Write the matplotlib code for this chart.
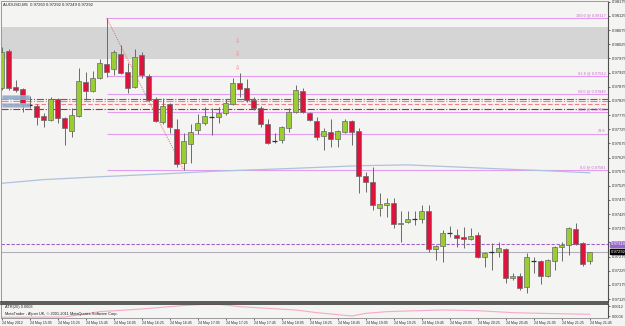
import matplotlib
matplotlib.use("Agg")
import matplotlib.pyplot as plt
import matplotlib.transforms as mtransforms
from matplotlib.patches import Rectangle

plt.rcParams['font.family'] = ['Liberation Sans', 'DejaVu Sans']

# ---------------- data ----------------
chart_title = "AUDUSD,M5  0.97260 0.97292 0.97249 0.97292"

opens = [0.97870, 0.98001, 0.97874, 0.97867, 0.97811, 0.97807, 0.97772, 0.97757, 0.97832, 0.97765,
         0.97719, 0.97772, 0.97892, 0.97860, 0.97906, 0.97955, 0.97937, 0.97990, 0.97927, 0.97874,
         0.97987, 0.97913, 0.97832, 0.97750, 0.97814, 0.97726, 0.97606, 0.97673, 0.97722, 0.97747,
         0.97769, 0.97768, 0.97782, 0.97814, 0.97888, 0.97870, 0.97828, 0.97800, 0.97743, 0.97684,
         0.97687, 0.97729, 0.97786, 0.97860, 0.97782, 0.97754, 0.97701, 0.97715, 0.97690, 0.97715,
         0.97754, 0.97719, 0.97560, 0.97539, 0.97447, 0.97457, 0.97464, 0.97390, 0.97397, 0.97409,
         0.97408, 0.97436, 0.97302, 0.97313, 0.97360, 0.97352, 0.97344, 0.97337, 0.97352, 0.97274,
         0.97292, 0.97291, 0.97302, 0.97200, 0.97207, 0.97168, 0.97261, 0.97260, 0.97207, 0.97260,
         0.97309, 0.97316, 0.97373, 0.97323, 0.97260]
highs = [0.98015, 0.98008, 0.97899, 0.97870, 0.97842, 0.97814, 0.97782, 0.97839, 0.97835, 0.97768,
         0.97800, 0.97941, 0.97927, 0.97930, 0.97973, 0.98117, 0.98004, 0.98022, 0.97959, 0.98008,
         0.97997, 0.97919, 0.97839, 0.97835, 0.97817, 0.97761, 0.97711, 0.97743, 0.97779, 0.97803,
         0.97800, 0.97803, 0.97832, 0.97906, 0.97923, 0.97902, 0.97839, 0.97807, 0.97761, 0.97711,
         0.97736, 0.97800, 0.97881, 0.97870, 0.97786, 0.97768, 0.97729, 0.97761, 0.97722, 0.97761,
         0.97757, 0.97729, 0.97574, 0.97591, 0.97500, 0.97482, 0.97482, 0.97436, 0.97436, 0.97436,
         0.97457, 0.97457, 0.97316, 0.97369, 0.97383, 0.97373, 0.97380, 0.97376, 0.97362, 0.97291,
         0.97323, 0.97327, 0.97305, 0.97217, 0.97217, 0.97288, 0.97274, 0.97263, 0.97267, 0.97313,
         0.97327, 0.97380, 0.97394, 0.97327, 0.97292]
lows = [0.97863, 0.97863, 0.97856, 0.97786, 0.97800, 0.97740, 0.97733, 0.97754, 0.97747, 0.97669,
        0.97697, 0.97768, 0.97828, 0.97856, 0.97902, 0.97909, 0.97916, 0.97919, 0.97853, 0.97870,
        0.97906, 0.97825, 0.97750, 0.97743, 0.97711, 0.97591, 0.97581, 0.97606, 0.97708, 0.97740,
        0.97704, 0.97747, 0.97775, 0.97810, 0.97839, 0.97821, 0.97793, 0.97733, 0.97673, 0.97676,
        0.97676, 0.97715, 0.97782, 0.97782, 0.97754, 0.97687, 0.97651, 0.97662, 0.97662, 0.97711,
        0.97669, 0.97500, 0.97503, 0.97440, 0.97419, 0.97415, 0.97376, 0.97327, 0.97394, 0.97387,
        0.97394, 0.97291, 0.97263, 0.97256, 0.97344, 0.97309, 0.97305, 0.97334, 0.97270, 0.97239,
        0.97228, 0.97274, 0.97182, 0.97193, 0.97157, 0.97147, 0.97217, 0.97179, 0.97203, 0.97228,
        0.97260, 0.97281, 0.97316, 0.97242, 0.97249]
closes = [0.97997, 0.97870, 0.97863, 0.97817, 0.97810, 0.97768, 0.97757, 0.97832, 0.97765, 0.97729,
          0.97775, 0.97895, 0.97860, 0.97906, 0.97959, 0.97927, 0.97997, 0.97923, 0.97870, 0.97980,
          0.97916, 0.97828, 0.97754, 0.97807, 0.97733, 0.97602, 0.97683, 0.97715, 0.97747, 0.97772,
          0.97768, 0.97782, 0.97817, 0.97888, 0.97867, 0.97828, 0.97800, 0.97743, 0.97676, 0.97683,
          0.97733, 0.97786, 0.97863, 0.97786, 0.97757, 0.97697, 0.97719, 0.97690, 0.97719, 0.97754,
          0.97715, 0.97560, 0.97539, 0.97457, 0.97461, 0.97464, 0.97390, 0.97394, 0.97408, 0.97408,
          0.97436, 0.97302, 0.97313, 0.97359, 0.97359, 0.97341, 0.97337, 0.97348, 0.97274, 0.97288,
          0.97291, 0.97305, 0.97200, 0.97207, 0.97164, 0.97274, 0.97260, 0.97207, 0.97263, 0.97309,
          0.97316, 0.97376, 0.97320, 0.97249, 0.97292]

time_labels = ["24 May 2012", "24 May 15:05", "24 May 15:25", "24 May 15:45", "24 May 16:05",
               "24 May 16:25", "24 May 16:45", "24 May 17:05", "24 May 17:25", "24 May 17:45",
               "24 May 18:05", "24 May 18:25", "24 May 18:45", "24 May 19:05", "24 May 19:25",
               "24 May 19:45", "24 May 20:05", "24 May 20:25", "24 May 20:45", "24 May 21:05",
               "24 May 21:25", "24 May 21:45"]
time_label_bars = [0, 4, 8, 12, 16, 20, 24, 28, 32, 36, 40, 44, 48, 52, 56, 60, 64, 68, 72, 76, 80, 84]

price_ticks = [0.98175, 0.98125, 0.98075, 0.98025, 0.97975, 0.97925, 0.97875, 0.97825, 0.97775,
               0.97725, 0.97675, 0.97625, 0.97575, 0.97525, 0.97475, 0.97425, 0.97375, 0.97325,
               0.97275, 0.97225, 0.97175, 0.97125]
price_tick_labels = ["%.5f" % v for v in price_ticks]

fib_start_bar, fib_end_bar = 15, 26
fib_levels = [100.0, 61.8, 50.0, 38.2, 23.6, 0.0]

zone_top, zone_bottom = 0.98087, 0.97974
arrow_bar = 34
arrow_prices = [0.98037, 0.97990, 0.97940]

hline_prices = [0.97833, 0.97825, 0.97814, 0.97796]
hline_colors = ['#e0206a', '#ff6fae', '#f08080', '#dc143c']
hline_styles = ['dashdot', 'dashdot', (0, (4, 2)), 'dashdot']
tag_prices = [0.97839, 0.97810]

ma_bars = [0, 6, 14, 23, 30, 42, 51, 58, 72, 78, 84]
ma_values = [0.97534, 0.97547, 0.97557, 0.97567, 0.97576, 0.97587, 0.97596, 0.97599, 0.97584,
             0.97578, 0.97571]

bid_price = 0.97292
line_price = 0.97318

atr_bars = [0, 9, 14, 20, 26, 29, 31, 34, 38, 42, 45, 47, 50, 52, 55, 58, 63, 68, 73, 77, 84]
atr_values = [0.00052, 0.00054, 0.00086, 0.00102, 0.00123, 0.00130, 0.00130, 0.00116, 0.00106,
              0.00096, 0.00080, 0.00072, 0.00060, 0.00076, 0.00086, 0.00090, 0.00096, 0.00092,
              0.00080, 0.00076, 0.00070]
atr_label = "ATR(20) 0.0008"
copyright_text = "MetaTrader - Alpari UK, \u00a9 2001-2011 MetaQuotes Software Corp."
atr_ticks = [0.0012, 0.0006]
atr_tick_labels = ["0.0012", "0.0006"]

# ---------------- styling ----------------
W, H = 625, 326
BG = '#f4f4f2'
BULL = '#9acd32'
BEAR = '#dc143c'
EDGE = '#6a6a6a'
FIB = '#e29cf0'
FIBTXT = '#c86ad0'

fig = plt.figure(figsize=(W / 100, H / 100), dpi=100, facecolor=BG)

def box(l, t, r, b):
    return [l / W, 1 - b / H, (r - l) / W, (b - t) / H]

ax = fig.add_axes(box(1.5, 1, 608, 302))
ax.set_facecolor(BG)
ax_atr = fig.add_axes(box(1.5, 304, 608, 318), sharex=ax)
ax_atr.set_facecolor(BG)

n = len(opens)
xs = list(range(n))
ax.set_xlim(-0.03, 86.6)
ax.set_ylim(0.971149, 0.981775)

# zone band
ax.axhspan(zone_bottom, zone_top, color='#d5d5d5', zorder=0.5, lw=0)

# horizontal lines
for p, c, s in zip(hline_prices, hline_colors, hline_styles):
    ax.axhline(p, color=c, lw=0.8, ls=s, zorder=1)

# fibonacci
f_hi = highs[fib_start_bar]
f_lo = lows[fib_end_bar]
for lv in fib_levels:
    p = f_lo + (f_hi - f_lo) * lv / 100.0
    ax.hlines(p, fib_start_bar, 86.6, color=FIB, lw=0.8, zorder=1)
    txt = "23.6" if lv == 23.6 else "%.1f @ %.5f" % (lv, p)
    ax.annotate(txt, xy=(1.0, p), xycoords=ax.get_yaxis_transform(),
                xytext=(-1.5, 0.6), textcoords='offset points', ha='right', va='bottom',
                fontsize=2.8, color=FIBTXT, zorder=5)
ax.plot([fib_start_bar, fib_end_bar], [f_hi, f_lo], color='#f07070', lw=0.7,
        ls=(0, (1.2, 1.2)), zorder=1.5)

# moving average
ax.plot(ma_bars, ma_values, color='#adc2dc', lw=0.9, zorder=1.2)

# bid / line
ax.axhline(bid_price, color='#b4aebb', lw=0.8, zorder=1)
ax.axhline(line_price, color='#a060c8', lw=0.8, ls=(0, (3, 1.5)), zorder=1)

# candles
for i in xs:
    o, h, l, c = opens[i], highs[i], lows[i], closes[i]
    ax.vlines(i, l, h, color=EDGE, lw=0.7, zorder=2)
    bull = c >= o
    col = BULL if bull else BEAR
    bot = min(o, c)
    hgt = abs(c - o)
    if hgt < 0.000025:
        ax.hlines((o + c) / 2, i - 0.35, i + 0.35, color='#303030', lw=0.9, zorder=3)
    else:
        ax.add_patch(Rectangle((i - 0.35, bot), 0.7, hgt, facecolor=col, edgecolor=EDGE,
                               lw=0.5, zorder=3))

# signal arrows
for p in arrow_prices:
    ax.text(arrow_bar - 0.25, p, '\u21e9', fontsize=4.5, color='#f08080', ha='center',
            va='center', family='DejaVu Sans', zorder=4)

# tag boxes at left
for p in tag_prices:
    ax.add_patch(Rectangle((0.1, p - 0.00007), 3.8, 0.00014, facecolor='#8faac8',
                           edgecolor='#b8c8dc', lw=0.4, alpha=0.9, zorder=4))

# title
fig.text(3 / W, 1 - 4.5 / H, chart_title, fontsize=3, color='#202020', va='center', ha='left')

# price axis
ax.yaxis.tick_right()
ax.set_yticks(price_ticks)
ax.set_yticklabels(price_tick_labels)
ax.tick_params(axis='y', labelsize=3, length=1.5, width=0.5, pad=1, colors='#303030')
ax.tick_params(axis='x', bottom=False, labelbottom=False)
for s in ['left', 'top']:
    ax.spines[s].set_color('#9a9a9a')
    ax.spines[s].set_linewidth(0.7)
ax.spines['right'].set_color('#505050')
ax.spines['right'].set_linewidth(0.8)
ax.spines['bottom'].set_color('#404040')
ax.spines['bottom'].set_linewidth(1.2)

# price boxes on the axis
yb = ax.get_yaxis_transform()
ax.text(1.004, line_price, "%.5f" % line_price, transform=yb, fontsize=3, color='#ffffff',
        va='center', ha='left', zorder=6,
        bbox=dict(boxstyle='square,pad=0.15', fc='#9966cc', ec='#9966cc'), clip_on=False)
ax.text(1.004, bid_price, "%.5f" % bid_price, transform=yb, fontsize=3, color='#ffffff',
        va='center', ha='left', zorder=6,
        bbox=dict(boxstyle='square,pad=0.15', fc='#000000', ec='#000000'), clip_on=False)

# ATR panel
ax_atr.set_ylim(0.00048, 0.00132)
ax_atr.plot(atr_bars, atr_values, color='#f7a8cc', lw=0.8)
ax_atr.yaxis.tick_right()
ax_atr.set_yticks(atr_ticks)
ax_atr.set_yticklabels(atr_tick_labels)
ax_atr.tick_params(axis='y', labelsize=2.8, length=1.5, width=0.5, pad=1, colors='#303030')
ax_atr.set_xticks(time_label_bars)
ax_atr.set_xticklabels(time_labels)
ax_atr.tick_params(axis='x', labelsize=2.6, length=1.5, width=0.5, pad=0.8, colors='#303030')
for lbl in ax_atr.get_xticklabels():
    lbl.set_ha('left')
for s in ['left', 'bottom']:
    ax_atr.spines[s].set_color('#9a9a9a')
    ax_atr.spines[s].set_linewidth(0.7)
ax_atr.spines['top'].set_color('#404040')
ax_atr.spines['top'].set_linewidth(1.2)
ax_atr.spines['right'].set_color('#505050')
ax_atr.spines['right'].set_linewidth(0.8)
ax_atr.text(0.005, 0.78, atr_label, transform=ax_atr.transAxes, fontsize=2.8, color='#202020',
            va='center', ha='left')
ax_atr.text(0.005, 0.25, copyright_text, transform=ax_atr.transAxes, fontsize=2.8,
            color='#202020', va='center', ha='left')

fig.savefig('out.png', dpi=100, facecolor=BG)
